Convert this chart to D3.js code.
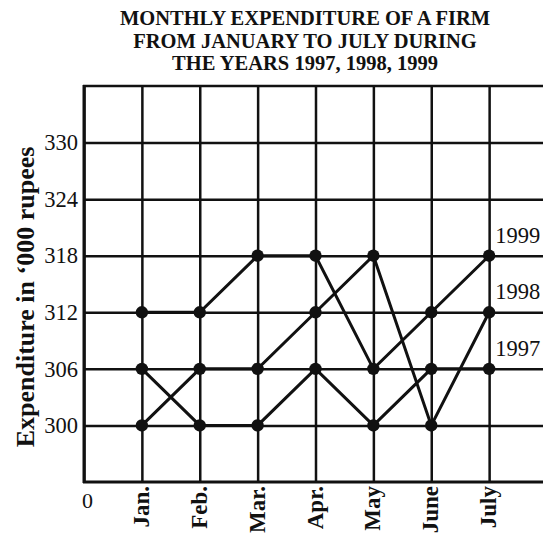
<!DOCTYPE html>
<html>
<head>
<meta charset="utf-8">
<script src="https://cdn.jsdelivr.net/npm/d3@7"></script>
<style>
  html, body { margin: 0; padding: 0; background: #fff; }
  svg { display: block; }
  text { font-family: "Liberation Serif", "Times New Roman", serif; fill: #111; }
</style>
</head>
<body>
<svg id="chart" width="543" height="533"></svg>
<script>
const titleLines = ["MONTHLY EXPENDITURE OF A FIRM", "FROM JANUARY TO JULY DURING", "THE YEARS 1997, 1998, 1999"];
const months = ["Jan.", "Feb.", "Mar.", "Apr.", "May", "June", "July"];
const years = ["1997", "1998", "1999"];
const values1997 = [306, 300, 300, 306, 300, 306, 306];
const values1998 = [300, 306, 306, 312, 318, 300, 312];
const values1999 = [312, 312, 318, 318, 306, 312, 318];
const yTicks = [300, 306, 312, 318, 324, 330];
const yLabel = "Expenditure in \u2018000 rupees";
const originLabel = "0";

const series = [
  { name: years[0], values: values1997 },
  { name: years[1], values: values1998 },
  { name: years[2], values: values1999 }
];

const svg = d3.select("#chart");
const pLeft = 84, pRight = 547, pTop = 86, pBottom = 482;

const x = d3.scaleLinear().domain([0, months.length + 1]).range([pLeft, pRight]);
const y = d3.scaleLinear().domain([294, 336]).range([pBottom, pTop]);

// Title
svg.append("g").selectAll("text").data(titleLines).join("text")
  .attr("x", 305).attr("y", (d, i) => 25 + i * 22.5)
  .attr("text-anchor", "middle")
  .attr("font-size", 20.5).attr("font-weight", "bold")
  .text(d => d);

// Y axis with horizontal grid
const yAxis = svg.append("g").attr("transform", `translate(${pLeft},0)`)
  .call(d3.axisLeft(y).tickValues(yTicks).tickSize(-(pRight - pLeft)).tickSizeOuter(0).tickPadding(6));
yAxis.select(".domain").remove();
yAxis.selectAll(".tick line").attr("stroke", "#111").attr("stroke-width", 2.5);
yAxis.selectAll(".tick text").attr("font-size", 22.5).attr("font-family", "Liberation Serif, serif").attr("fill", "#111");

// X axis with vertical grid
const xIdx = d3.range(0, months.length + 1);
const xAxis = svg.append("g").attr("transform", `translate(0,${pBottom})`)
  .call(d3.axisBottom(x).tickValues(xIdx).tickSize(-(pBottom - pTop)).tickSizeOuter(0)
    .tickFormat(i => i === 0 ? originLabel : months[i - 1]));
xAxis.select(".domain").remove();
xAxis.selectAll(".tick line").attr("stroke", "#111").attr("stroke-width", 2.5);
xAxis.selectAll(".tick text")
  .attr("font-family", "Liberation Serif, serif").attr("fill", "#111")
  .each(function(d) {
    const t = d3.select(this);
    if (d === 0) {
      t.attr("font-size", 22).attr("y", 10).attr("dy", "0.71em").attr("x", 3);
    } else {
      t.attr("font-size", 23).attr("font-weight", "bold")
        .attr("transform", "rotate(-90)")
        .attr("text-anchor", "end").attr("x", -4).attr("y", 6.5).attr("dy", 0);
    }
  });

// Frame lines: top, bottom
svg.append("g").selectAll("line").data([294, 336]).join("line")
  .attr("x1", pLeft - 1).attr("x2", pRight)
  .attr("y1", d => y(d)).attr("y2", d => y(d))
  .attr("stroke", "#111").attr("stroke-width", d => d === 294 ? 3 : 2.5);
svg.append("line").attr("x1", pLeft).attr("x2", pLeft).attr("y1", pTop - 1).attr("y2", pBottom + 1)
  .attr("stroke", "#111").attr("stroke-width", 3);

// Y label
svg.append("text")
  .attr("transform", `translate(34,297) rotate(-90)`)
  .attr("text-anchor", "middle").attr("font-size", 26).attr("font-weight", "bold")
  .text(yLabel);

// Lines
const line = d3.line().x((d, i) => x(i + 1)).y(d => y(d));
svg.append("g").selectAll("path").data(series).join("path")
  .attr("d", d => line(d.values))
  .attr("fill", "none").attr("stroke", "#111").attr("stroke-width", 3);

// Markers
svg.append("g").selectAll("g").data(series).join("g")
  .selectAll("circle").data(d => d.values).join("circle")
  .attr("cx", (d, i) => x(i + 1)).attr("cy", d => y(d)).attr("r", 6.2).attr("fill", "#111");

// Year labels
svg.append("g").selectAll("text").data(series).join("text")
  .attr("x", x(months.length) + 6)
  .attr("y", d => y(d.values[d.values.length - 1]) - 13)
  .attr("font-size", 22.5)
  .text(d => d.name);
</script>
</body>
</html>
